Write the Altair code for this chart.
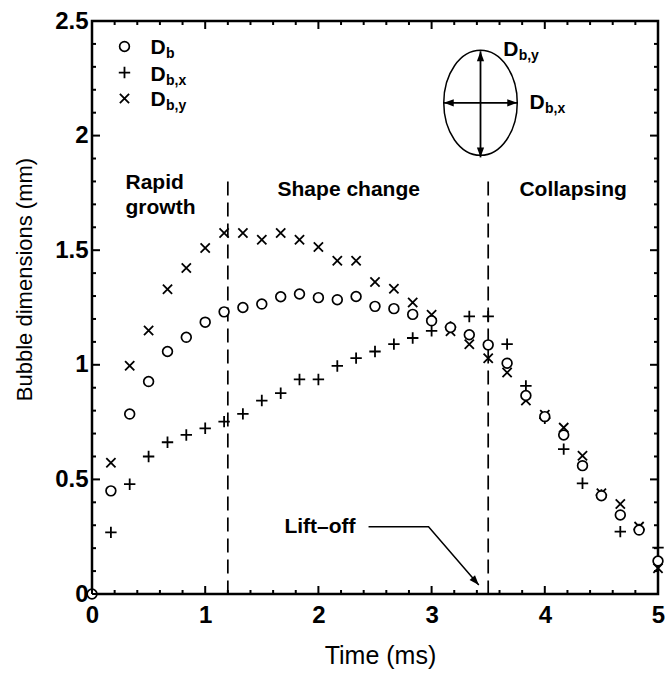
import altair as alt
import pandas as pd

F = "Liberation Sans"
W, H = 566, 573
TICK_COLOR = "black"

# ---------------- data ----------------
time = [0.000, 0.167, 0.333, 0.500, 0.667, 0.833, 1.000, 1.167, 1.333, 1.500,
        1.667, 1.833, 2.000, 2.167, 2.333, 2.500, 2.667, 2.833, 3.000, 3.167,
        3.333, 3.500, 3.667, 3.833, 4.000, 4.167, 4.333, 4.500, 4.667, 4.833, 5.000]
db = [0.0, 0.45, 0.785, 0.927, 1.058, 1.12, 1.186, 1.231, 1.25, 1.265,
      1.297, 1.309, 1.293, 1.284, 1.298, 1.255, 1.245, 1.22, 1.192, 1.163,
      1.131, 1.087, 1.007, 0.866, 0.774, 0.694, 0.56, 0.429, 0.345, 0.279, 0.144]
time_xy = time[1:]
dbx = [0.269, 0.479, 0.6, 0.662, 0.694, 0.723, 0.752, 0.786, 0.844, 0.876,
       0.936, 0.936, 0.995, 1.029, 1.058, 1.09, 1.117, 1.148, 1.165, 1.211,
       1.211, 1.09, 0.908, 0.767, 0.632, 0.483, 0.432, 0.272, 0.282, 0.202]
dby = [0.573, 0.996, 1.15, 1.33, 1.422, 1.51, 1.575, 1.575, 1.546, 1.575,
       1.546, 1.514, 1.454, 1.454, 1.361, 1.332, 1.272, 1.218, 1.146, 1.09,
       1.029, 0.966, 0.844, 0.782, 0.726, 0.603, 0.44, 0.393, 0.294, 0.112]

x_ticks = [0, 1, 2, 3, 4, 5]
y_ticks = [0, 0.5, 1, 1.5, 2, 2.5]
x_minor = [0.2, 0.4, 0.6, 0.8, 1.2, 1.4, 1.6, 1.8, 2.2, 2.4, 2.6, 2.8,
           3.2, 3.4, 3.6, 3.8, 4.2, 4.4, 4.6, 4.8]
y_minor = [0.1, 0.2, 0.3, 0.4, 0.6, 0.7, 0.8, 0.9, 1.1, 1.2, 1.3, 1.4,
           1.6, 1.7, 1.8, 1.9, 2.1, 2.2, 2.3, 2.4]
X_MIN, X_MAX, Y_MIN, Y_MAX = 0, 5, 0, 2.5

phase_x = [1.2, 3.5]
phase_top = [1.8, 1.8]
phase_bottom = [0, 0]
phase_text = ["Rapid", "growth", "Shape change", "Collapsing"]
phase_tx = [0.296, 0.296, 1.639, 3.776]
phase_ty = [1.767, 1.659, 1.735, 1.735]

legend_main = ["D", "D", "D"]
legend_sub = ["b", "b,x", "b,y"]
legend_sym_x = [0.287, 0.287, 0.287]
legend_sym_y = [2.389, 2.275, 2.162]
legend_tx = [0.517, 0.517, 0.517]
legend_ty = [2.354, 2.240, 2.127]

ell_x, ell_y = [3.432], [2.143]
sketch_lab_main = ["D", "D"]
sketch_lab_sub = ["b,y", "b,x"]
sketch_lab_x = [3.632, 3.865]
sketch_lab_y = [2.346, 2.114]
arrow_x1 = [3.432, 3.108]
arrow_y1 = [1.905, 2.143]
arrow_x2 = [3.432, 3.756]
arrow_y2 = [2.368, 2.143]
head_x = [3.432, 3.432, 3.108, 3.756, 3.417]
head_y = [2.368, 1.905, 2.143, 2.143, 0.039]
head_a = [0, 180, 270, 90, 139]

lift_text = ["Lift\u2013off"]
lift_tx, lift_ty = [1.70], [0.266]
lift_lx = [2.443, 2.973, 3.417]
lift_ly = [0.293, 0.293, 0.039]

# ---------------- helpers ----------------
xs = alt.Scale(domain=[X_MIN, X_MAX], nice=False, zero=False)
ys = alt.Scale(domain=[Y_MIN, Y_MAX], nice=False, zero=False)

PLUS = "M-1,0L1,0M0,-1L0,1"
CROSS = "M-1,-1L1,1M-1,1L1,-1"
ELLIPSE = ("M0,-1C0.3866,-1 0.7,-0.5523 0.7,0C0.7,0.5523 0.3866,1 0,1"
           "C-0.3866,1 -0.7,0.5523 -0.7,0C-0.7,-0.5523 -0.3866,-1 0,-1Z")
HEAD = "M0,0L-0.4,1.1L0.4,1.1Z"

C_SIZE, P_SIZE, X_SIZE = 95, 130, 85


def X(f="x", axis=None):
    return alt.X(f"{f}:Q", scale=xs, axis=axis)


def Y(f="y", axis=None):
    return alt.Y(f"{f}:Q", scale=ys, axis=axis)


x_main = alt.Axis(orient="bottom", values=x_ticks, format="~g", ticks=False,
                  domain=False, grid=False,
                  labelFont=F, labelFontSize=24, labelFontWeight="bold",
                  labelColor="black", labelPadding=9, labelFlush=False,
                  labelOverlap=False, title="Time (ms)", titleFont=F,
                  titleFontSize=25, titleFontWeight="normal", titleColor="black",
                  titleX=288, titleY=69, titleBaseline="alphabetic",
                  titleAlign="center")
y_main = alt.Axis(orient="left", values=y_ticks, format="~g", ticks=False,
                  domain=False, grid=False,
                  labelFont=F, labelFontSize=24, labelFontWeight="bold",
                  labelColor="black", labelPadding=4, labelFlush=False,
                  labelOverlap=False, title="Bubble dimensions (mm)",
                  titleFont=F, titleFontSize=22, titleFontWeight="normal",
                  titleColor="black", titleX=-68, titleY=258, titleAngle=270,
                  titleBaseline="middle", titleAlign="center")

df_b = pd.DataFrame({"x": time, "y": db})
df_x = pd.DataFrame({"x": time_xy, "y": dbx})
df_y = pd.DataFrame({"x": time_xy, "y": dby})

layers = []

# inward ticks: short rules from the frame, lengths given in pixels
PXX = (X_MAX - X_MIN) / W
PXY = (Y_MAX - Y_MIN) / H
tick_rows = {"x": [], "y": [], "x2": [], "y2": []}
for vals, ln in ((x_ticks, 8), (x_minor, 4)):
    for v in vals:
        for base, sgn in ((Y_MIN, 1), (Y_MAX, -1)):
            tick_rows["x"].append(v)
            tick_rows["x2"].append(v)
            tick_rows["y"].append(base)
            tick_rows["y2"].append(base + sgn * ln * PXY)
for vals, ln in ((y_ticks, 8), (y_minor, 4)):
    for v in vals:
        for base, sgn in ((X_MIN, 1), (X_MAX, -1)):
            tick_rows["y"].append(v)
            tick_rows["y2"].append(v)
            tick_rows["x"].append(base)
            tick_rows["x2"].append(base + sgn * ln * PXX)
df_ticks = pd.DataFrame(tick_rows)

# phase separators
df_phase = pd.DataFrame({"x": phase_x, "y": phase_top, "y2": phase_bottom})
layers.append(alt.Chart(df_phase).mark_rule(color="black", strokeWidth=1.7, strokeDash=[14, 7])
              .encode(x=X(), y=Y(), y2="y2:Q"))

# data series
layers.append(alt.Chart(df_x).mark_point(shape=PLUS, size=P_SIZE, filled=False, color="black",
                                         strokeWidth=1.8, opacity=1)
              .encode(x=X("x", x_main), y=Y("y", y_main)))
layers.append(alt.Chart(df_y).mark_point(shape=CROSS, size=X_SIZE, filled=False, color="black",
                                         strokeWidth=1.8, opacity=1)
              .encode(x=X(), y=Y()))
layers.append(alt.Chart(df_b).mark_point(shape="circle", size=C_SIZE, filled=True, fill="white",
                                         stroke="black", strokeWidth=1.7, opacity=1,
                                         fillOpacity=1)
              .encode(x=X(), y=Y()))

# phase labels
df_pt = pd.DataFrame({"x": phase_tx, "y": phase_ty, "t": phase_text})
layers.append(alt.Chart(df_pt).mark_text(align="left", baseline="alphabetic", font=F,
                                         fontSize=21, fontWeight="bold", color="black")
              .encode(x=X(), y=Y(), text="t:N"))

# legend
df_ls = pd.DataFrame({"x": legend_sym_x, "y": legend_sym_y})
layers.append(alt.Chart(df_ls.iloc[[0]]).mark_point(shape="circle", size=C_SIZE, filled=False,
                                                    color="black", strokeWidth=1.7, opacity=1)
              .encode(x=X(), y=Y()))
layers.append(alt.Chart(df_ls.iloc[[1]]).mark_point(shape=PLUS, size=P_SIZE, filled=False,
                                                    color="black", strokeWidth=1.8, opacity=1)
              .encode(x=X(), y=Y()))
layers.append(alt.Chart(df_ls.iloc[[2]]).mark_point(shape=CROSS, size=X_SIZE, filled=False,
                                                    color="black", strokeWidth=1.8, opacity=1)
              .encode(x=X(), y=Y()))
df_lt = pd.DataFrame({"x": legend_tx + sketch_lab_x, "y": legend_ty + sketch_lab_y,
                      "m": legend_main + sketch_lab_main, "s": legend_sub + sketch_lab_sub})
layers.append(alt.Chart(df_lt).mark_text(align="left", baseline="alphabetic", font=F,
                                         fontSize=21, fontWeight="bold", color="black")
              .encode(x=X(), y=Y(), text="m:N"))
layers.append(alt.Chart(df_lt).mark_text(align="left", baseline="alphabetic", font=F,
                                         fontSize=14, fontWeight="bold", color="black",
                                         dx=15.5, dy=4)
              .encode(x=X(), y=Y(), text="s:N"))

# bubble sketch
df_e = pd.DataFrame({"x": ell_x, "y": ell_y})
layers.append(alt.Chart(df_e).mark_point(shape=ELLIPSE, size=11025, filled=False,
                                         color="black", strokeWidth=1.5, opacity=1)
              .encode(x=X(), y=Y()))
df_ar = pd.DataFrame({"x": arrow_x1, "y": arrow_y1, "x2": arrow_x2, "y2": arrow_y2})
layers.append(alt.Chart(df_ar).mark_rule(color="black", strokeWidth=1.8)
              .encode(x=X(), y=Y(), x2="x2:Q", y2="y2:Q"))
layers.append(alt.Chart(df_ticks).mark_rule(color=TICK_COLOR, strokeWidth=2)
              .encode(x=X(), y=Y(), x2="x2:Q", y2="y2:Q"))

# lift-off annotation
df_lift = pd.DataFrame({"x": lift_lx, "y": lift_ly, "o": [0, 1, 2]})
layers.append(alt.Chart(df_lift).mark_line(color="black", strokeWidth=1.5)
              .encode(x=X(), y=Y(), order="o:Q"))
df_ltx = pd.DataFrame({"x": lift_tx, "y": lift_ty, "t": lift_text})
layers.append(alt.Chart(df_ltx).mark_text(align="left", baseline="alphabetic", font=F,
                                          fontSize=21, fontWeight="bold", color="black")
              .encode(x=X(), y=Y(), text="t:N"))

# arrow heads
df_h = pd.DataFrame({"x": head_x, "y": head_y, "a": head_a})
layers.append(alt.Chart(df_h).mark_point(shape=HEAD, size=324, filled=True, color="black",
                                         opacity=1, strokeWidth=0)
              .encode(x=X(), y=Y(), angle=alt.Angle("a:Q", scale=None)))

chart = (alt.layer(*layers)
         .resolve_axis(x="independent", y="independent")
         .properties(width=W, height=H, background="white",
                     padding={"left": 92, "top": 21, "right": 7, "bottom": 79},
                     autosize=alt.AutoSizeParams(type="none"))
         .configure_view(stroke=TICK_COLOR, strokeWidth=2.5))

chart.save("out.html", embed_options={"renderer": "svg", "actions": False})
